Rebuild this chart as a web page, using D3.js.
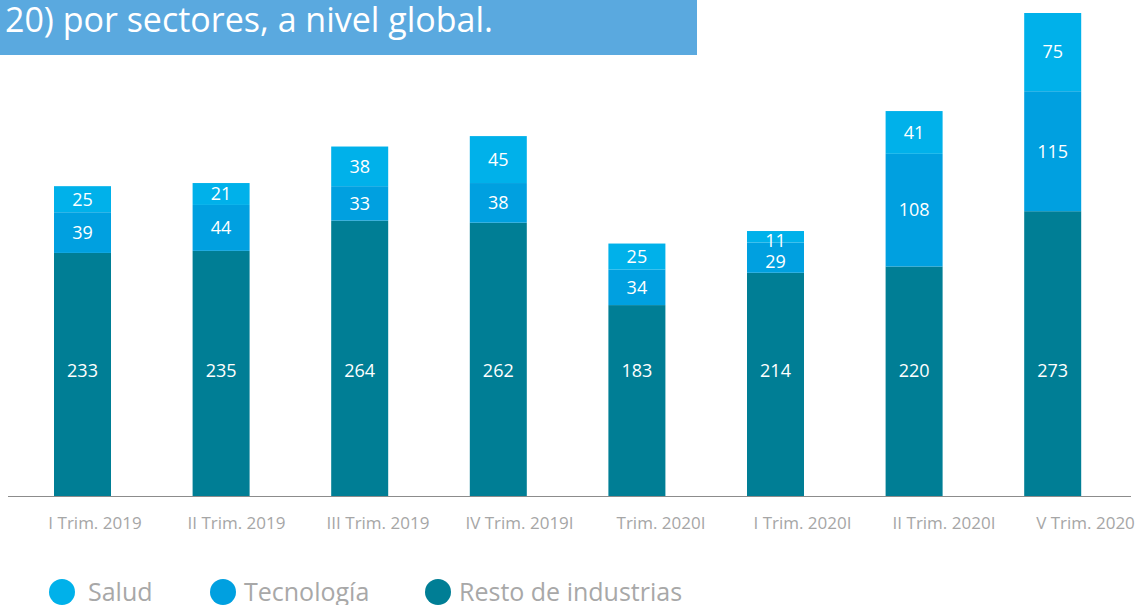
<!DOCTYPE html>
<html>
<head>
<meta charset="utf-8">
<script src="https://cdn.jsdelivr.net/npm/d3@7"></script>
<style>
  body { margin: 0; background: #fff; }
  svg { display: block; font-family: "Open Sans", sans-serif; }
</style>
</head>
<body>
<svg id="grafico" width="1141" height="605"></svg>
<script>
// datos
const trimestres = ["I Trim. 2019", "II Trim. 2019", "III Trim. 2019", "IV Trim. 2019I",
  "Trim. 2020I", "I Trim. 2020I", "II Trim. 2020I", "V Trim. 2020"];
const resto = [233, 235, 264, 262, 183, 214, 220, 273];
const tecnologia = [39, 44, 33, 38, 34, 29, 108, 115];
const salud = [25, 21, 38, 45, 25, 11, 41, 75];

const series = [
  { nombre: "Resto de industrias", valores: resto, color: "#007e95" },
  { nombre: "Tecnología", valores: tecnologia, color: "#00a0e0" },
  { nombre: "Salud", valores: salud, color: "#00b1ea" }
];
const leyenda = ["Salud", "Tecnología", "Resto de industrias"];

const svg = d3.select("#grafico");
const base = 496;

const tabla = trimestres.map((t, i) => ({
  trimestre: t,
  "Resto de industrias": resto[i],
  "Tecnología": tecnologia[i],
  "Salud": salud[i]
}));

const stack = d3.stack().keys(series.map(s => s.nombre));
const capas = stack(tabla);

const x = d3.scalePoint()
  .domain(trimestres)
  .range([13.2, 1122])
  .padding(0.5);
const anchoBarra = 57;

const y = d3.scaleLinear()
  .domain([0, d3.max(tabla, d => d["Resto de industrias"] + d["Tecnología"] + d["Salud"])])
  .range([base, 13]);

// titulo
svg.append("rect").attr("x", 0).attr("y", 0).attr("width", 697).attr("height", 55).attr("fill", "#5aa9df");
svg.append("text")
  .attr("x", 493).attr("y", 32)
  .attr("text-anchor", "end")
  .attr("fill", "#fff")
  .style("font-size", "34px")
  .text("20) por sectores, a nivel global.");

// barras
capas.forEach((capa, k) => {
  svg.append("g")
    .selectAll("rect")
    .data(capa)
    .join("rect")
    .attr("x", d => x(d.data.trimestre) - anchoBarra / 2)
    .attr("y", d => y(d[1]))
    .attr("width", anchoBarra)
    .attr("height", d => y(d[0]) - y(d[1]))
    .attr("fill", series[k].color);
});

// etiquetas de valores (se evita que se salgan o se pisen)
const etiquetas = [];
tabla.forEach((d, i) => {
  const [cr, ct, cs] = capas.map(c => c[i]);
  const ySalud = Math.max((y(cs[0]) + y(cs[1])) / 2, y(cs[1]) + 10);
  const yTec = Math.max((y(ct[0]) + y(ct[1])) / 2, ySalud + 21);
  etiquetas.push({ t: d.trimestre, y: 371, v: cr[1] - cr[0] });
  etiquetas.push({ t: d.trimestre, y: yTec, v: ct[1] - ct[0] });
  etiquetas.push({ t: d.trimestre, y: ySalud, v: cs[1] - cs[0] });
});

svg.append("g")
  .selectAll("text")
  .data(etiquetas)
  .join("text")
  .attr("x", d => x(d.t))
  .attr("y", d => d.y)
  .attr("dy", "0.35em")
  .attr("text-anchor", "middle")
  .attr("fill", "#fff")
  .style("font-size", "18px")
  .text(d => d.v);

// eje
svg.append("line")
  .attr("x1", 8).attr("x2", 1131)
  .attr("y1", base + 0.5).attr("y2", base + 0.5)
  .attr("stroke", "#8c8c8c").attr("stroke-width", 1.2);

const xEtiquetas = d3.scalePoint()
  .domain(trimestres)
  .range([95, 1085.5]);

svg.append("g")
  .selectAll("text")
  .data(trimestres)
  .join("text")
  .attr("x", d => xEtiquetas(d))
  .attr("y", 529)
  .attr("text-anchor", "middle")
  .attr("fill", "#a6a6a6")
  .style("font-size", "17px")
  .text(d => d);

// leyenda
const circLeyenda = [62, 223, 438];
const textoLeyenda = [88, 244, 459];
const colores = { "Salud": "#00b1ea", "Tecnología": "#00a0e0", "Resto de industrias": "#007e95" };
const ley = svg.append("g")
  .selectAll("g")
  .data(leyenda)
  .join("g");
ley.append("circle")
  .attr("cx", (d, i) => circLeyenda[i]).attr("cy", 592)
  .attr("r", 13).attr("fill", d => colores[d]);
ley.append("text")
  .attr("x", (d, i) => textoLeyenda[i]).attr("y", 601)
  .attr("fill", "#a8a8a8")
  .style("font-size", "25px")
  .text(d => d);
</script>
</body>
</html>
